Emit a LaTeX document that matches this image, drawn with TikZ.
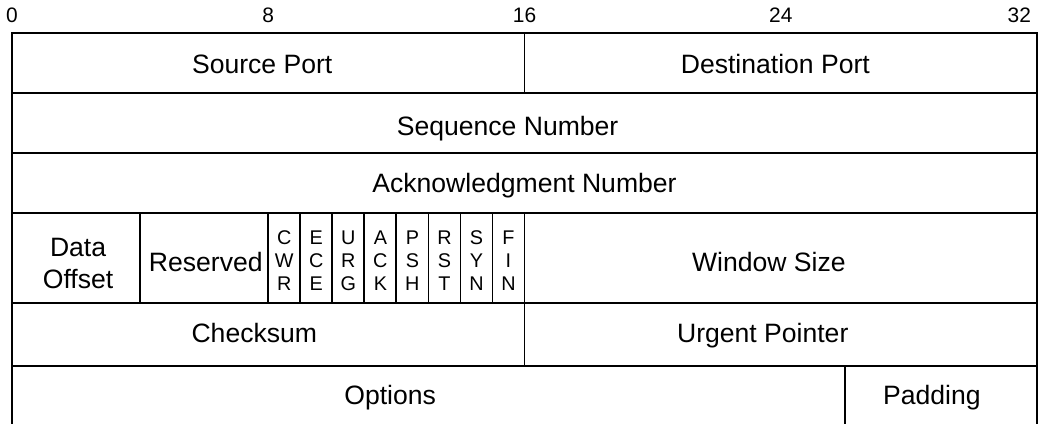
\documentclass[tikz,border=0pt]{standalone}
\usepackage{fontspec}
\setmainfont{Liberation Sans}

\begin{document}
\begin{tikzpicture}[
    x=0.5cm, y=-0.9366cm,
    field/.style={draw, line width=0.8pt, inner sep=0pt},
    fieldtext/.style={font=\fontsize{11.8}{14.2}\selectfont, align=center, inner sep=0pt, text depth=0pt},
    flagtext/.style={fieldtext, font=\fontsize{8.8}{10.3}\selectfont},
    bitnum/.style={font=\fontsize{9.3}{11}\selectfont, anchor=base}
  ]
  \useasboundingbox (-0.3747,-0.55) rectangle (32.2186,6.5);
  \clip (-0.3747,-0.55) rectangle (32.2186,6.5);
  \foreach \b in {0,8,16,24}{
    \node[bitnum] (bit\b) at (\b,-0.167) {\b};
  }
  \node[bitnum, anchor=base east] (bit32) at (32.06,-0.167) {32};
  \foreach \name/\from/\to/\rowtop/\rowh/\dx/\dy/\lab in {
    srcport/0/16/0/1/-2.7/-0.6/Source Port,
    dstport/16/32/0/1/-2.4/-0.6/Destination Port,
    seqnum/0/32/1/1/-7.5/-1.2/Sequence Number,
    acknum/0/32/2/1/0/0/Acknowledgment Number,
    offset/0/4/3/1.5/0.9/-2.4/{Data\\Offset},
    reserved/4/8/3/1.5/0.7/-1.6/Reserved,
    window/16/32/3/1.5/-5.3/-1.6/Window Size,
    checksum/0/16/4.5/1.05/-6.2/0.8/Checksum,
    urgent/16/32/4.5/1.05/-8/0.8/Urgent Pointer,
    options/0/26/5.55/1/-17/0.3/Options,
    padding/26/32/5.55/1/-2.4/0.3/Padding
  }{
    \node[field, minimum width={(\to-\from)*0.5cm}, minimum height={\rowh*0.9366cm},
      label={[fieldtext, name=\name-text, xshift=\dx pt, yshift=\dy pt]center:\lab}]
      (\name) at ({(\from+\to)/2},{\rowtop+\rowh/2}) {};
  }
  \foreach \name/\lab [count=\i from 8] in {
    cwr/C\\W\\R, ece/E\\C\\E, urg/U\\R\\G, ack/A\\C\\K,
    psh/P\\S\\H, rst/R\\S\\T, syn/S\\Y\\N, fin/F\\I\\N
  }{
    \node[field, minimum width=0.5cm, minimum height=1.4049cm,
      label={[flagtext, name=\name-text, yshift=-1.1pt]center:\lab}]
      (\name) at (\i+0.5,3.75) {};
  }
\end{tikzpicture}
\end{document}
